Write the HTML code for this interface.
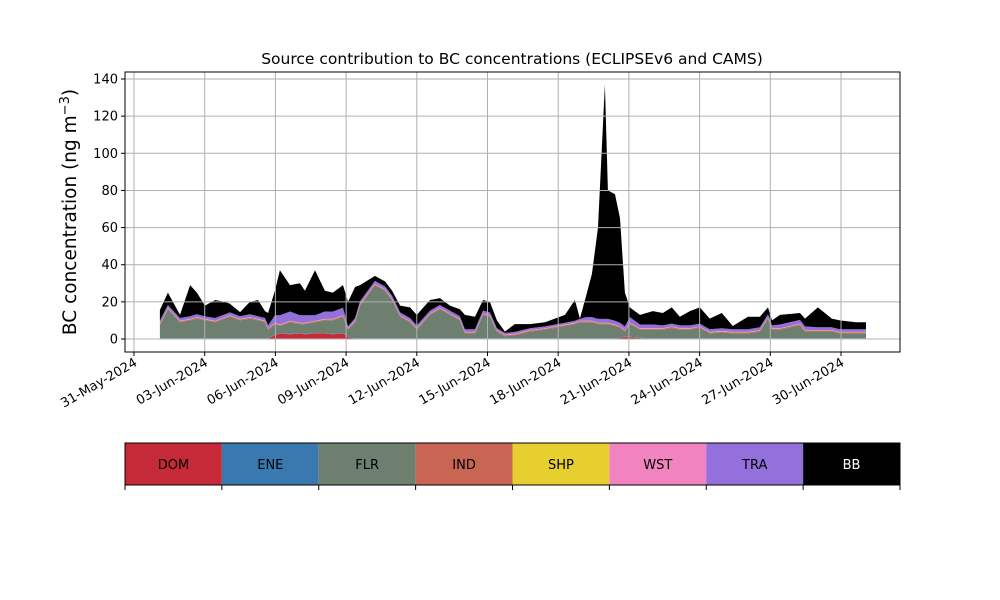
<!DOCTYPE html>
<html><head><meta charset="utf-8"><style>
body{margin:0;background:#fff;}
svg{display:block;font-family:"DejaVu Sans","Liberation Sans",sans-serif;}
</style></head><body>
<svg id="chart" width="1000" height="600"></svg>
<script>
const days=[1.10,1.44,1.95,2.38,2.67,3.01,3.44,3.86,4.07,4.50,4.92,5.26,5.56,5.69,5.98,6.19,6.62,7.04,7.25,7.68,8.10,8.44,8.87,9.08,9.38,9.59,10.22,10.65,10.95,11.29,11.71,12.0,12.56,12.98,13.41,13.83,14.04,14.47,14.81,15.10,15.40,15.74,16.16,16.80,17.44,17.86,18.29,18.71,18.92,19.18,19.43,19.69,19.98,20.11,20.41,20.62,20.83,21.04,21.47,22.02,22.44,22.82,23.16,23.59,24.01,24.43,24.94,25.41,26.05,26.56,26.90,27.07,27.41,28.26,28.47,29.02,29.61,29.95,30.63,31.06];
const dom=[0.2,0.2,0.2,0.2,0.2,0.2,0.2,0.2,0.2,0.2,0.2,0.2,0.2,0.2,2,3,2.5,3,2.5,3,3,2.5,3,1,0.2,0.2,0.2,0.2,0.2,0.2,0.2,0.2,0.2,0.2,0.2,0.2,0.2,0.2,0.2,0.2,0.2,0.2,0.2,0.2,0.2,0.2,0.2,0.2,0.2,0.2,0.2,0.2,0.2,0.2,0.2,0.6,1,1,0.5,0.2,0.2,0.2,0.2,0.2,0.2,0.2,0.2,0.2,0.2,0.2,0.2,0.2,0.2,0.2,0.2,0.2,0.2,0.2,0.2,0.2];
const ene=[0.2,0.2,0.2,0.2,0.2,0.2,0.2,0.2,0.2,0.2,0.2,0.2,0.2,0.2,0.2,0.2,0.2,0.2,0.2,0.2,0.2,0.2,0.2,0.2,0.2,0.2,0.2,0.2,0.2,0.2,0.2,0.2,0.2,0.2,0.2,0.2,0.2,0.2,0.2,0.2,0.2,0.2,0.2,0.2,0.2,0.2,0.2,0.2,0.2,0.2,0.2,0.2,0.2,0.2,0.2,0.2,0.2,0.2,0.2,0.2,0.2,0.2,0.2,0.2,0.2,0.2,0.2,0.2,0.2,0.2,0.2,0.2,0.2,0.2,0.2,0.2,0.2,0.2,0.2,0.2];
const flr=[7.1,15.6,8.6,9.6,10.6,9.6,8.6,10.6,11.6,9.6,10.6,9.6,8.6,4.6,5.8,3.8,6.3,4.8,5.3,5.8,6.8,7.3,8.8,3.8,8.6,17.6,28.6,25.6,20.6,11.6,8.6,4.6,12.6,15.6,12.6,9.6,2.6,2.6,12.6,11.6,3.6,1.1,1.6,3.6,4.6,5.6,6.6,7.6,8.6,8.6,8.6,7.6,7.6,7.6,6.6,5.2,2.8,6.8,4.3,4.6,4.6,5.6,4.6,4.6,5.6,2.6,3.1,2.6,2.6,3.6,10.6,4.6,4.6,7.1,3.6,3.6,3.6,2.6,2.6,2.6];
const ind=[0.5,0.5,0.5,0.5,0.5,0.5,0.5,0.5,0.5,0.5,0.5,0.5,0.5,0.5,0.5,0.5,0.5,0.5,0.5,0.5,0.5,0.5,0.5,0.5,0.5,0.5,0.5,0.5,0.5,0.5,0.5,0.5,0.5,0.5,0.5,0.5,0.5,0.5,0.5,0.5,0.5,0.5,0.5,0.5,0.5,0.5,0.5,0.5,0.5,0.5,0.5,0.5,0.5,0.5,0.5,0.5,0.5,0.5,0.5,0.5,0.5,0.5,0.5,0.5,0.5,0.5,0.5,0.5,0.5,0.5,0.5,0.5,0.5,0.5,0.5,0.5,0.5,0.5,0.5,0.5];
const shp=[0.1,0.1,0.1,0.1,0.1,0.1,0.1,0.1,0.1,0.1,0.1,0.1,0.1,0.1,0.1,0.1,0.1,0.1,0.1,0.1,0.1,0.1,0.1,0.1,0.1,0.1,0.1,0.1,0.1,0.1,0.1,0.1,0.1,0.1,0.1,0.1,0.1,0.1,0.1,0.1,0.1,0.1,0.1,0.1,0.1,0.1,0.1,0.1,0.1,0.1,0.1,0.1,0.1,0.1,0.1,0.1,0.1,0.1,0.1,0.1,0.1,0.1,0.1,0.1,0.1,0.1,0.1,0.1,0.1,0.1,0.1,0.1,0.1,0.1,0.1,0.1,0.1,0.1,0.1,0.1];
const wst=[0.2,0.2,0.2,0.2,0.2,0.2,0.2,0.2,0.2,0.2,0.2,0.2,0.2,0.2,0.2,0.2,0.2,0.2,0.2,0.2,0.2,0.2,0.2,0.2,0.2,0.2,0.2,0.2,0.2,0.2,0.2,0.2,0.2,0.2,0.2,0.2,0.2,0.2,0.2,0.2,0.2,0.2,0.2,0.2,0.2,0.2,0.2,0.2,0.2,0.2,0.2,0.2,0.2,0.2,0.2,0.2,0.2,0.2,0.2,0.2,0.2,0.2,0.2,0.2,0.2,0.2,0.2,0.2,0.2,0.2,0.2,0.2,0.2,0.2,0.2,0.2,0.2,0.2,0.2,0.2];
const tra=[1.5,1.5,1.5,1.5,1.5,1.5,1.5,1.5,1.5,1.5,1.5,1.5,1.5,1.5,4,5,5,4,4,3,4,4,4,1,1.5,1.5,1.5,1.5,1.5,1.5,1.5,1.5,1.5,1.5,1.5,1.5,1.5,1.5,1.5,1.5,1,1,1,1,1,1,1,1,1,2,2,2,2,2,2,2,2,3,2,2,1.5,1.5,1.5,1.5,1.5,1.5,1.5,1.5,1.5,1.5,1.5,1.5,2,2,2,1.5,1.5,1.5,1.5,1.5];
const bb=[5.8,6.7,1.7,16.7,11.7,5.7,9.7,6.7,4.7,2.2,6.7,8.7,3.7,6.7,13.2,24.2,14.2,17.2,13.2,24.2,11.2,10.2,12.2,13.2,16.7,8.7,2.7,2.7,2.7,3.7,5.7,5.7,5.7,3.7,2.7,3.7,7.7,6.7,5.7,5.7,4.2,0.7,4.2,2.2,2.2,3.2,4.2,11.2,0.2,11.2,23.2,49.2,126.2,69.2,68.2,56.2,18.2,5.2,5.2,7.2,6.7,8.7,4.7,7.7,8.7,5.7,8.2,1.7,6.7,5.7,3.7,2.7,5.2,3.7,4.2,10.7,4.7,4.7,3.7,3.7];
const seriesNames=["DOM","ENE","FLR","IND","SHP","WST","TRA","BB"];
const seriesColors=["#c62a38","#3a78b0","#6d8070","#c86553","#e6cf2e","#f183c0","#9370db","#000000"];
const yTicks=[0,20,40,60,80,100,120,140];
const xTickDays=[0,3,6,9,12,15,18,21,24,27,30];
const xTickLabels=["31-May-2024","03-Jun-2024","06-Jun-2024","09-Jun-2024","12-Jun-2024","15-Jun-2024","18-Jun-2024","21-Jun-2024","24-Jun-2024","27-Jun-2024","30-Jun-2024"];

const NS="http://www.w3.org/2000/svg";
const svg=document.getElementById('chart');
function el(tag,attrs,parent){const e=document.createElementNS(NS,tag);for(const k in attrs)e.setAttribute(k,attrs[k]);(parent||svg).appendChild(e);return e;}
const L=125,R=900,T=72,B=352;
const xs=d=>134+d*23.567;
const ys=v=>339-v*1.857;

const series=[dom,ene,flr,ind,shp,wst,tra,bb];
let base=days.map(()=>0);
series.forEach((s,i)=>{
  const top=base.map((b,j)=>b+s[j]);
  let d="M"+days.map((t,j)=>xs(t).toFixed(1)+","+ys(top[j]).toFixed(1)).join("L");
  for(let j=days.length-1;j>=0;j--)d+="L"+xs(days[j]).toFixed(1)+","+ys(base[j]).toFixed(1);
  const p=el('path',{d:d+"Z",fill:seriesColors[i]});
  
  
  base=top;
});

yTicks.forEach(v=>{
  const g=el('line',{x1:L,x2:R,y1:ys(v),y2:ys(v),stroke:"#b0b0b0","stroke-width":1});
  
  
  el('line',{x1:L-4,x2:L,y1:ys(v),y2:ys(v),stroke:"#000"});
  const t=el('text',{x:L-7,y:ys(v)+4.5,"text-anchor":"end","font-size":13});
  t.textContent=v;
  
  
});
xTickDays.forEach((d,i)=>{
  const x=xs(d);
  const g=el('line',{x1:x,x2:x,y1:T,y2:B,stroke:"#b0b0b0","stroke-width":1});
  
  
  el('line',{x1:x,x2:x,y1:B,y2:B+4,stroke:"#000"});
  const t=el('text',{x:x+4,y:B+13,"text-anchor":"end","font-size":13,transform:`rotate(-30 ${x+4} ${B+13})`});
  t.textContent=xTickLabels[i];
  
  
});
const fr=el('rect',{x:L,y:T,width:R-L,height:B-T,fill:"none",stroke:"#000","stroke-width":1});



const title=el('text',{x:512,y:64,"text-anchor":"middle","font-size":15.5});
title.textContent="Source contribution to BC concentrations (ECLIPSEv6 and CAMS)";


const yl=el('text',{x:76,y:212,"text-anchor":"middle","font-size":18.5,transform:"rotate(-90 76 212)"});
yl.innerHTML='BC concentration (ng m<tspan dy="-7" font-size="13">−3</tspan><tspan dy="7">)</tspan>';



const segW=(R-L)/8;
seriesNames.forEach((n,i)=>{
  const x=L+i*segW;
  const r=el('rect',{x:x,y:443,width:segW,height:42,fill:seriesColors[i]});
  
  
  const t=el('text',{x:x+segW/2,y:469,"text-anchor":"middle","font-size":13,fill:n==="BB"?"#fff":"#000"});
  t.textContent=n;
  
  
});
for(let i=0;i<=8;i++){el('line',{x1:L+i*segW,x2:L+i*segW,y1:485,y2:490,stroke:"#000"});}
const lf=el('rect',{x:L,y:443,width:R-L,height:42,fill:"none",stroke:"#000"});


</script>
</body></html>
